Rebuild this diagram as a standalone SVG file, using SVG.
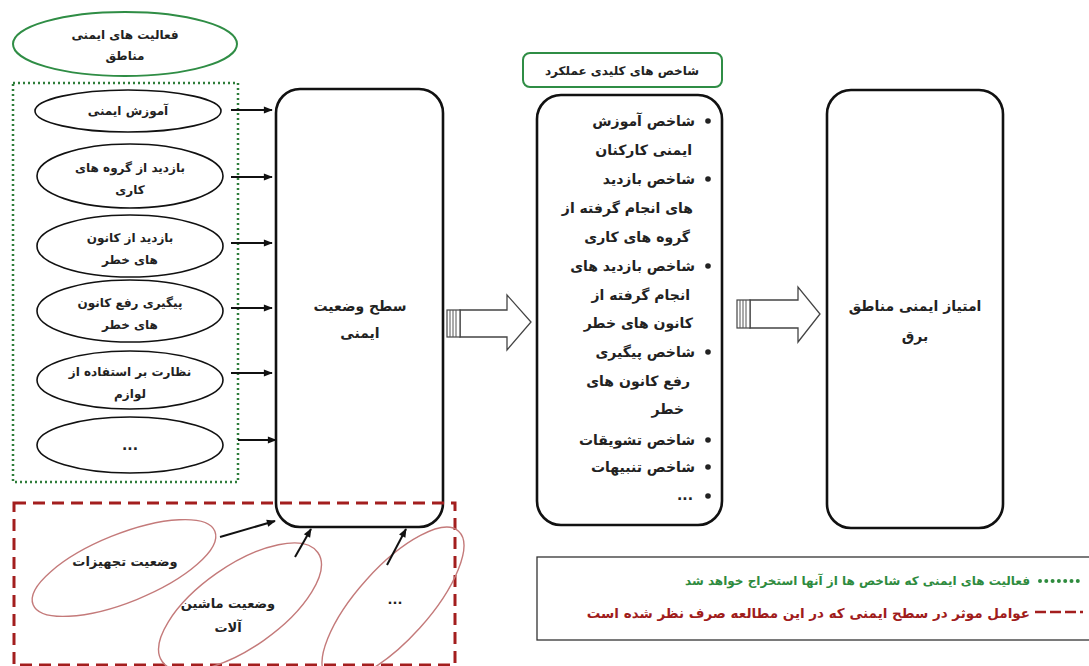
<svg xmlns="http://www.w3.org/2000/svg" width="1089" height="666" viewBox="0 0 1089 666">
<defs>
<style>
text{font-family:"DejaVu Sans","Noto Sans",sans-serif;font-weight:bold;fill:#222;}
.t12{font-size:12px;}
.t13{font-size:13px;}
.t14{font-size:14px;}
.blk{fill:#fff;stroke:#111;stroke-width:1.6;}
.box{fill:#fff;stroke:#111;stroke-width:2.6;}
.red{fill:none;stroke:#c47a7a;stroke-width:1.4;}
.conn{stroke:#111;stroke-width:2;fill:none;}
.barrow{fill:#fff;stroke:#444;stroke-width:1.3;}
</style>
<marker id="ah" viewBox="0 0 10 10" refX="9" refY="5" markerWidth="10" markerHeight="9" markerUnits="userSpaceOnUse" orient="auto">
<path d="M0,1 L10,5 L0,9 z" fill="#111"/>
</marker>
</defs>
<rect width="1089" height="666" fill="#fff"/>

<g id="top-ellipse">
<ellipse cx="125" cy="44" rx="112" ry="32" fill="#fff" stroke="#2f8d45" stroke-width="2"/>
<text class="t12" x="125" y="39" text-anchor="middle">فعالیت های ایمنی</text>
<text class="t12" x="125" y="60" text-anchor="middle">مناطق</text>
</g>

<g id="activities-group">
<rect x="13" y="83" width="225" height="399" fill="none" stroke="#2e7d3a" stroke-width="2.5" stroke-dasharray="2 3"/>
</g>

<g id="act1">
<ellipse class="blk" cx="128" cy="111" rx="93" ry="21"/>
<text class="t12" x="128" y="115" text-anchor="middle">آموزش ایمنی</text>
</g>
<g id="act2">
<ellipse class="blk" cx="130" cy="176" rx="93" ry="32"/>
<text class="t12" x="130" y="172" text-anchor="middle">بازدید از گروه های</text>
<text class="t12" x="130" y="194" text-anchor="middle">کاری</text>
</g>
<g id="act3">
<ellipse class="blk" cx="130" cy="246" rx="93" ry="31"/>
<text class="t12" x="130" y="242" text-anchor="middle">بازدید از کانون</text>
<text class="t12" x="130" y="264" text-anchor="middle">های خطر</text>
</g>
<g id="act4">
<ellipse class="blk" cx="130" cy="311" rx="93" ry="31"/>
<text class="t12" x="130" y="307" text-anchor="middle">پیگیری رفع کانون</text>
<text class="t12" x="130" y="329" text-anchor="middle">های خطر</text>
</g>
<g id="act5">
<ellipse class="blk" cx="130" cy="380" rx="93" ry="29"/>
<text class="t12" x="130" y="376" text-anchor="middle">نظارت بر استفاده از</text>
<text class="t12" x="130" y="398" text-anchor="middle">لوازم</text>
</g>
<g id="act6">
<ellipse class="blk" cx="130" cy="445" rx="93" ry="28"/>
<text class="t14" x="130" y="450" text-anchor="middle">...</text>
</g>

<g id="safety-level">
<rect class="box" x="276" y="89" width="167" height="438" rx="24"/>
<text class="t14" x="360" y="311" text-anchor="middle">سطح وضعیت</text>
<text class="t14" x="360" y="338" text-anchor="middle">ایمنی</text>
</g>

<g id="kpi-header">
<rect x="523" y="53" width="199" height="34" rx="7" fill="#fff" stroke="#2f8d45" stroke-width="2"/>
<text class="t12" x="622" y="75" text-anchor="middle">شاخص های کلیدی عملکرد</text>
</g>

<g id="kpi-box">
<rect class="box" x="537" y="95" width="185" height="430" rx="24"/>
<g class="t14" text-anchor="end">
<text x="695" y="126">شاخص آموزش</text>
<text x="692" y="155">ایمنی کارکنان</text>
<text x="695" y="184">شاخص بازدید</text>
<text x="693" y="213">های انجام گرفته از</text>
<text x="690" y="242">گروه های کاری</text>
<text x="695" y="271">شاخص بازدید های</text>
<text x="690" y="300">انجام گرفته از</text>
<text x="693" y="328">کانون های خطر</text>
<text x="695" y="357">شاخص پیگیری</text>
<text x="690" y="386">رفع کانون های</text>
<text x="684" y="414">خطر</text>
<text x="695" y="445">شاخص تشویقات</text>
<text x="695" y="472">شاخص تنبیهات</text>
<text x="693" y="500">...</text>
</g>
<g fill="#222">
<circle cx="708" cy="121" r="2.8"/>
<circle cx="708" cy="179" r="2.8"/>
<circle cx="708" cy="266" r="2.8"/>
<circle cx="708" cy="352" r="2.8"/>
<circle cx="708" cy="440" r="2.8"/>
<circle cx="708" cy="467" r="2.8"/>
<circle cx="708" cy="496" r="2.8"/>
</g>
</g>

<g id="score-box">
<rect class="box" x="827" y="90" width="176" height="438" rx="24"/>
<text class="t14" x="915" y="311" text-anchor="middle">امتیاز ایمنی مناطق</text>
<text class="t14" x="915" y="341" text-anchor="middle">برق</text>
</g>

<g id="factors-group">
<rect x="14" y="503" width="441" height="162" fill="none" stroke="#a31e1e" stroke-width="3" stroke-dasharray="12 7"/>
</g>
<g id="factor1">
<ellipse class="red" cx="124" cy="568" rx="98" ry="34" transform="rotate(-22 124 568)"/>
<text class="t13" x="125" y="566" text-anchor="middle">وضعیت تجهیزات</text>
</g>
<g id="factor2">
<ellipse class="red" cx="240" cy="607" rx="95" ry="41" transform="rotate(-35 240 607)"/>
<text class="t13" x="228" y="608" text-anchor="middle">وضعیت ماشین</text>
<text class="t13" x="228" y="632" text-anchor="middle">آلات</text>
</g>
<g id="factor3">
<ellipse class="red" cx="393" cy="604" rx="98" ry="36" transform="rotate(-48 393 604)"/>
<text class="t13" x="395" y="604" text-anchor="middle">...</text>
</g>

<g id="connectors">
<line class="conn" x1="231" y1="110" x2="272" y2="110" marker-end="url(#ah)"/>
<line class="conn" x1="231" y1="177" x2="272" y2="177" marker-end="url(#ah)"/>
<line class="conn" x1="231" y1="243" x2="272" y2="243" marker-end="url(#ah)"/>
<line class="conn" x1="231" y1="308" x2="272" y2="308" marker-end="url(#ah)"/>
<line class="conn" x1="231" y1="373" x2="272" y2="373" marker-end="url(#ah)"/>
<line class="conn" x1="238" y1="440" x2="276" y2="440" marker-end="url(#ah)"/>
<line class="conn" x1="220" y1="537" x2="275" y2="521" marker-end="url(#ah)"/>
<line class="conn" x1="295" y1="557" x2="311" y2="529" marker-end="url(#ah)"/>
<line class="conn" x1="387" y1="565" x2="406" y2="529" marker-end="url(#ah)"/>
<g id="block-arrow-1">
<polygon class="barrow" points="460,310 507,310 507,295 531,322 507,350 507,337 460,337"/>
<rect x="447" y="310" width="13" height="27" fill="#fff" stroke="#444" stroke-width="1.2"/>
<path d="M450,310V337M453,310V337M456,310V337" stroke="#555" stroke-width="1"/>
</g>
<g id="block-arrow-2">
<polygon class="barrow" points="750,300 798,300 798,287 820,314 798,342 798,328 750,328"/>
<rect x="737" y="300" width="13" height="28" fill="#fff" stroke="#444" stroke-width="1.2"/>
<path d="M740,300V328M743,300V328M746,300V328" stroke="#555" stroke-width="1"/>
</g>
</g>

<g id="legend">
<rect x="537" y="557" width="560" height="83" fill="#fff" stroke="#333" stroke-width="1.3"/>
<path d="M1040,581H1084" stroke="#2e8b3e" stroke-width="4" stroke-linecap="round" stroke-dasharray="0 6.3"/>
<path d="M1035,612H1083" stroke="#a31e1e" stroke-width="2.5" stroke-dasharray="11 4"/>
<text class="t12" x="1030" y="585" text-anchor="end" style="fill:#2e8b3e">فعالیت های ایمنی که شاخص ها از آنها استخراج خواهد شد</text>
<text x="1030" y="618" text-anchor="end" style="fill:#a01c1c;font-size:13.5px">عوامل موثر در سطح ایمنی که در این مطالعه صرف نظر شده است</text>
</g>
</svg>
